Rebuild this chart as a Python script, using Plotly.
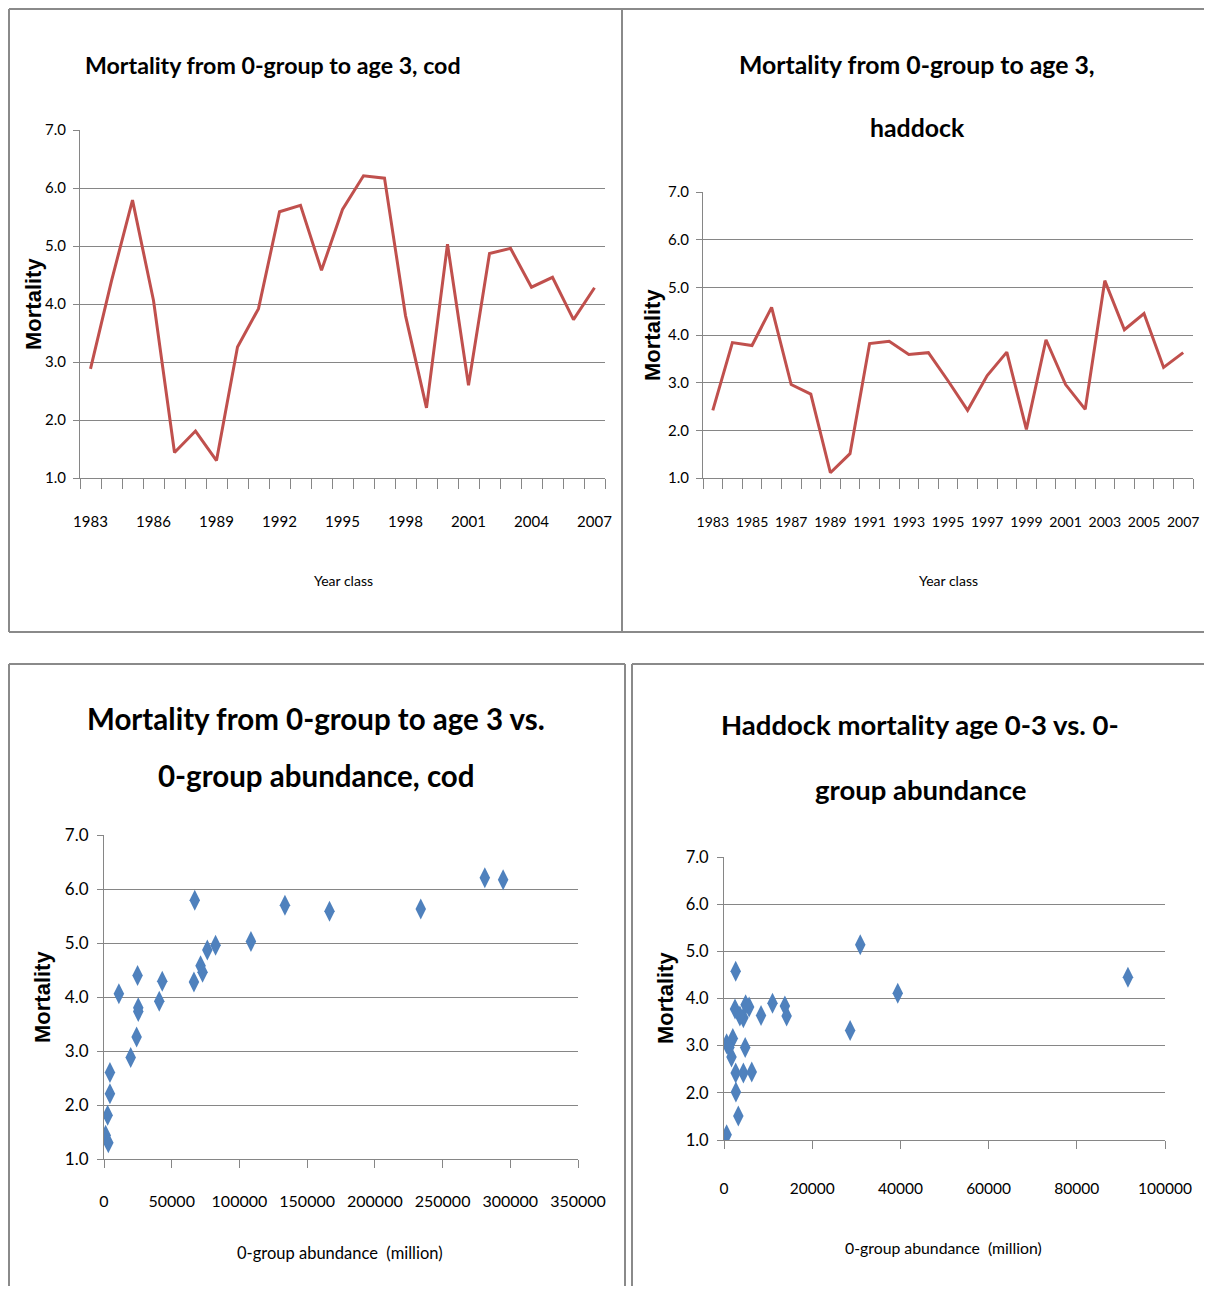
import plotly.graph_objects as go

# ---------------- data ----------------
years = list(range(1983, 2008))
cod_mortality = [2.88, 4.40, 5.79, 4.06, 1.44, 1.81, 1.30, 3.26, 3.92, 5.59, 5.70, 4.58, 5.63,
                 6.21, 6.17, 3.80, 2.21, 5.03, 2.60, 4.87, 4.96, 4.29, 4.46, 3.73, 4.28]
haddock_mortality = [2.42, 3.84, 3.78, 4.58, 2.96, 2.76, 1.11, 1.51, 3.82, 3.87, 3.59, 3.63, 3.04,
                     2.42, 3.15, 3.64, 2.02, 3.90, 2.96, 2.44, 5.14, 4.11, 4.45, 3.32, 3.63]
cod_abundance = [19700, 24800, 67000, 11000, 1200, 2700, 3200, 24100, 40800, 166500, 133600, 71300, 233900,
                 281200, 294700, 25300, 4400, 108500, 4400, 76300, 82400, 43000, 72800, 25300, 66400]
haddock_abundance = [2650, 13800, 2500, 2650, 4800, 1700, 600, 3250, 5700, 4900, 4400, 14200, 600,
                     4400, 2000, 8400, 2700, 11000, 1200, 6300, 30900, 39400, 91600, 28600, 3600]

cod_year_ticks = years[::3]
haddock_year_ticks = years[::2]

titles = {
    "p1": ["Mortality from 0-group to age 3, cod"],
    "p2": ["Mortality from 0-group to age 3,", "haddock"],
    "p3": ["Mortality from 0-group to age 3 vs.", "0-group abundance, cod"],
    "p4": ["Haddock mortality age 0-3 vs. 0-", "group abundance"],
}
y_title = "Mortality"
x_title_year = "Year class"
x_title_abund = "0-group abundance  (million)"

# ---------------- layout helpers ----------------
OFF = 8                      # page body margin
W, H = 1212 - 2 * OFF, 1294 - 2 * OFF
GRAY = "#868686"
BORDER = "#8a8a8a"
LINE_RED = "#C0504D"
BLUE = "#4F81BD"
NARROW = "Lato, Roboto, sans-serif"
ARIAL = "Liberation Sans, Arial, sans-serif"


def px_x(p):
    return (p - OFF) / W


def px_y(p):
    return 1 - (p - OFF) / H


fig = go.Figure()

fig.add_trace(go.Scatter(x=years, y=cod_mortality, mode="lines",
                         line=dict(color=LINE_RED, width=3), xaxis="x", yaxis="y", showlegend=False))
fig.add_trace(go.Scatter(x=years, y=haddock_mortality, mode="lines",
                         line=dict(color=LINE_RED, width=3), xaxis="x2", yaxis="y2", showlegend=False))
fig.add_trace(go.Scatter(x=cod_abundance, y=cod_mortality, mode="markers",
                         marker=dict(symbol="diamond-tall", size=15, color=BLUE),
                         xaxis="x3", yaxis="y3", showlegend=False))
fig.add_trace(go.Scatter(x=haddock_abundance, y=haddock_mortality, mode="markers",
                         marker=dict(symbol="diamond-tall", size=15, color=BLUE),
                         xaxis="x4", yaxis="y4", showlegend=False))


def yaxis(anchor, top, bottom, size, standoff):
    return dict(anchor=anchor, domain=[px_y(bottom), px_y(top)], range=[1, 7], dtick=1,
                tickformat=".1f", showgrid=True, gridcolor=GRAY, gridwidth=1, automargin=False,
                showline=True, linecolor=GRAY, linewidth=1, ticks="outside", ticklen=6,
                tickcolor=GRAY, zeroline=False, ticklabelstandoff=standoff,
                tickfont=dict(family=NARROW, size=size, color="#000"))


def xaxis_years(anchor, left, right, tickvals, size, standoff):
    return dict(anchor=anchor, domain=[px_x(left), px_x(right)], range=[1982.5, 2007.5],
                tickmode="array", tickvals=tickvals, ticks="", showgrid=False, zeroline=False,
                showline=True, linecolor=GRAY, linewidth=1, ticklabelstandoff=standoff,
                automargin=False, tickangle=0, tickfont=dict(family=NARROW, size=size, color="#000"),
                minor=dict(tickmode="linear", tick0=1982.5, dtick=1, ticks="outside",
                           ticklen=10, tickcolor=GRAY, showgrid=False))


def xaxis_num(anchor, left, right, rng, dtick, size, standoff):
    return dict(anchor=anchor, domain=[px_x(left), px_x(right)], range=rng, dtick=dtick,
                tickformat="d", ticks="outside", ticklen=8, tickcolor=GRAY, showgrid=False,
                zeroline=False, showline=True, linecolor=GRAY, linewidth=1, tickangle=0,
                automargin=False, ticklabelstandoff=standoff,
                tickfont=dict(family=NARROW, size=size, color="#000"))


fig.update_layout(
    width=W, height=H, margin=dict(l=0, r=0, t=0, b=0, autoexpand=False),
    paper_bgcolor="white", plot_bgcolor="white",
    xaxis=xaxis_years("y", 80, 605, cod_year_ticks, 15, 30),
    yaxis=yaxis("x", 130, 478, 15, 4),
    xaxis2=xaxis_years("y2", 703, 1193, haddock_year_ticks, 14, 31),
    yaxis2=yaxis("x2", 192, 478, 15, 4),
    xaxis3=xaxis_num("y3", 104, 578, [0, 350000], 50000, 16, 20),
    yaxis3=yaxis("x3", 835, 1159, 17, 5),
    xaxis4=xaxis_num("y4", 724, 1165, [0, 100000], 20000, 15.5, 26),
    yaxis4=yaxis("x4", 857, 1140, 16.5, 5),
)

# panel borders (kept inside the figure area)
xl, xr, yt, yb = OFF + 1, OFF + W, OFF + 1, OFF + H
border_lines = [
    (xl, yt, xr, yt), (xl, yt, xl, 632), (622, yt, 622, 632), (xl, 632, xr, 632),   # top row
    (xl, 664, 625, 664), (xl, 664, xl, yb), (625, 664, 625, yb),                      # bottom-left
    (632, 664, xr, 664), (632, 664, 632, yb),                                         # bottom-right
]
for x0, y0, x1, y1 in border_lines:
    fig.add_shape(type="line", xref="paper", yref="paper",
                  x0=px_x(x0), x1=px_x(x1), y0=px_y(y0), y1=px_y(y1),
                  line=dict(color=BORDER, width=2), layer="above")

anns = []


def text(x, y, s, size, family=NARROW, bold=True, angle=0):
    anns.append(dict(x=px_x(x), y=px_y(y), xref="paper", yref="paper", text=("<b>%s</b>" % s) if bold else s,
                     showarrow=False, xanchor="center", yanchor="middle", textangle=angle,
                     font=dict(family=family, size=size, color="#000")))


# titles
text(273, 65, titles["p1"][0], 23.2)
text(917, 65, titles["p2"][0], 24.8)
text(917, 127, titles["p2"][1], 24.8)
text(316, 718, titles["p3"][0], 29.5)
text(316, 775, titles["p3"][1], 29.5)
text(920, 724, titles["p4"][0], 27.5)
text(920, 790, titles["p4"][1], 27.5)

# axis titles
text(33, 304, y_title, 22, family=ARIAL, angle=-90)
text(652, 335, y_title, 22, family=ARIAL, angle=-90)
text(42, 997, y_title, 22, family=ARIAL, angle=-90)
text(665, 998, y_title, 22, family=ARIAL, angle=-90)
text(343, 581, x_title_year, 14, bold=False)
text(948, 581, x_title_year, 14, bold=False)
text(340, 1253, x_title_abund, 16.5, bold=False)
text(943, 1247, x_title_abund, 15.8, bold=False)

fig.update_layout(annotations=anns)

fig.write_html("out.html")
